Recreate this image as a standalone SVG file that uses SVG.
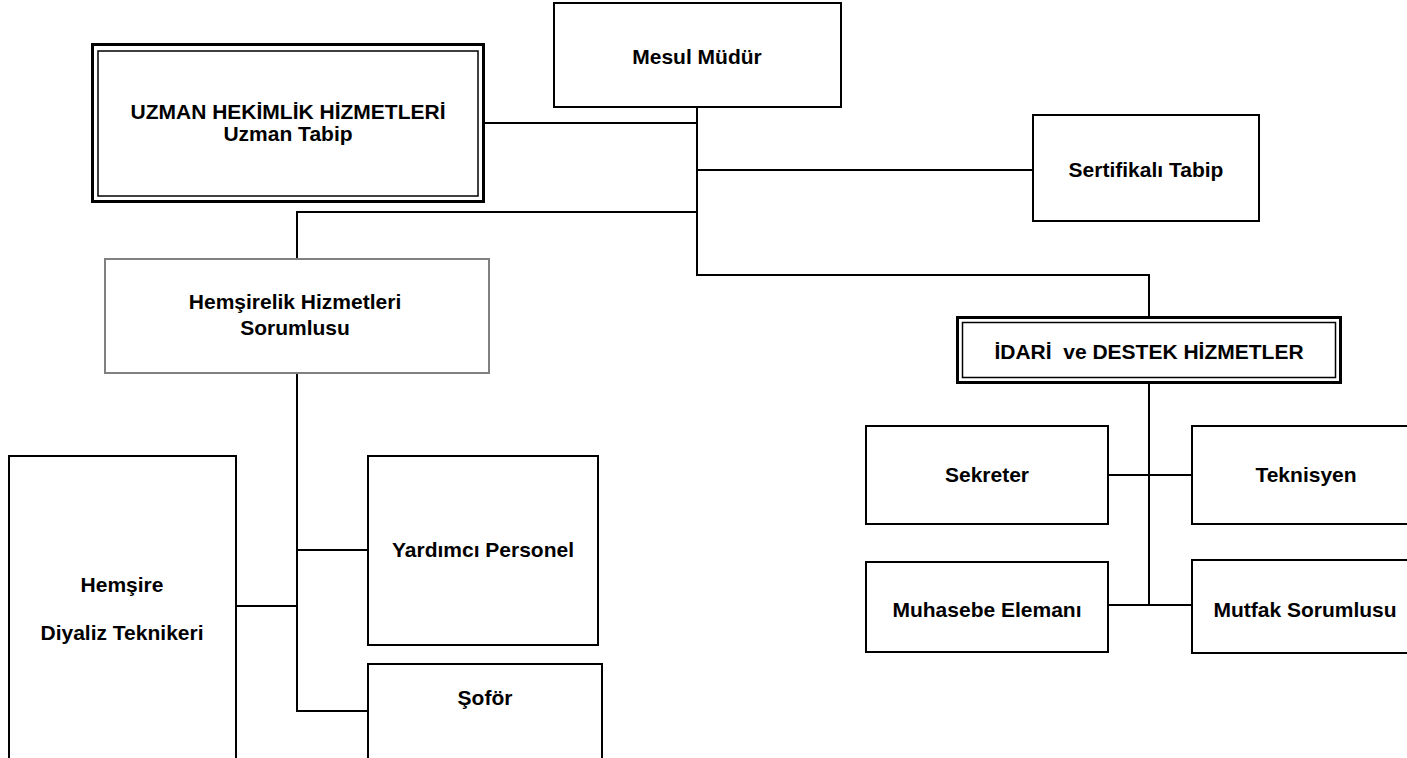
<svg xmlns="http://www.w3.org/2000/svg" width="1407" height="758" viewBox="0 0 1407 758">
<style>
.box{fill:#fff;stroke:#000;stroke-width:2}
.grey{fill:#fff;stroke:#808080;stroke-width:2}
.outer{fill:#fff;stroke:#000;stroke-width:3}
.inner{fill:none;stroke:#000;stroke-width:1.5}
.conn{fill:none;stroke:#000;stroke-width:2}
text{font-family:"Liberation Sans",Arial,sans-serif;font-weight:bold;font-size:21px;fill:#000;text-anchor:middle;white-space:pre}
</style>
<rect width="1407" height="758" fill="#fff"/>
<g id="connectors">
<path class="conn" d="M697 107 V275 H1149 V317"/>
<path class="conn" d="M484 123 H697"/>
<path class="conn" d="M697 170 H1033"/>
<path class="conn" d="M697 212 H297 V259"/>
<path class="conn" d="M297 373 V711 H368"/>
<path class="conn" d="M297 550 H368"/>
<path class="conn" d="M236 606 H297"/>
<path class="conn" d="M1149 383 V605"/>
<path class="conn" d="M1108 475 H1192"/>
<path class="conn" d="M1108 605 H1192"/>
</g>
<g id="mesul">
<rect class="box" x="554" y="3" width="287" height="104"/>
<text x="697" y="64">Mesul Müdür</text>
</g>
<g id="uzman">
<rect class="outer" x="92.5" y="44.5" width="391" height="157"/>
<rect class="inner" x="98" y="51" width="380" height="145"/>
<text x="288" y="119">UZMAN HEKİMLİK HİZMETLERİ</text>
<text x="288" y="141">Uzman Tabip</text>
</g>
<g id="sertifikali">
<rect class="box" x="1033" y="115" width="226" height="106"/>
<text x="1146" y="177">Sertifikalı Tabip</text>
</g>
<g id="hemsirelik">
<rect class="grey" x="105" y="259" width="384" height="114"/>
<text x="295" y="309">Hemşirelik Hizmetleri</text>
<text x="295" y="335">Sorumlusu</text>
</g>
<g id="idari">
<rect class="outer" x="957.5" y="317.5" width="383" height="65"/>
<rect class="inner" x="962.5" y="322.5" width="373" height="55"/>
<text x="1149" y="359">İDARİ  ve DESTEK HİZMETLER</text>
</g>
<g id="hemsire">
<rect class="box" x="9" y="456" width="227" height="320"/>
<text x="122" y="592">Hemşire</text>
<text x="122" y="640">Diyaliz Teknikeri</text>
</g>
<g id="yardimci">
<rect class="box" x="368" y="456" width="230" height="189"/>
<text x="483" y="557">Yardımcı Personel</text>
</g>
<g id="sofor">
<rect class="box" x="368" y="664" width="234" height="110"/>
<text x="485" y="705">Şoför</text>
</g>
<g id="sekreter">
<rect class="box" x="866" y="426" width="242" height="98"/>
<text x="987" y="482">Sekreter</text>
</g>
<g id="teknisyen">
<rect class="box" x="1192" y="426" width="228" height="98"/>
<text x="1306" y="482">Teknisyen</text>
</g>
<g id="muhasebe">
<rect class="box" x="866" y="562" width="242" height="90"/>
<text x="987" y="617">Muhasebe Elemanı</text>
</g>
<g id="mutfak">
<rect class="box" x="1192" y="560" width="228" height="93"/>
<text x="1305" y="617">Mutfak Sorumlusu</text>
</g>
</svg>
